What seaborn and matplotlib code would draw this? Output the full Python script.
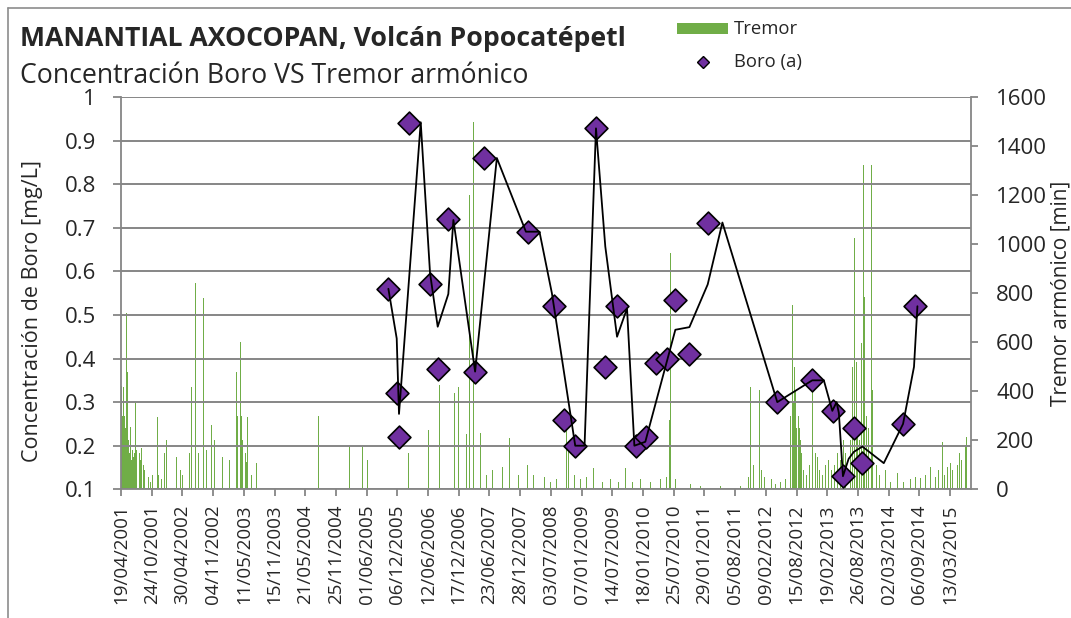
import numpy as np
import pandas as pd
import matplotlib
matplotlib.use("Agg")
import matplotlib.pyplot as plt
import seaborn as sns
from matplotlib.lines import Line2D
from matplotlib.patches import Rectangle

# ---------------- data ----------------
title = "MANANTIAL AXOCOPAN, Volcán Popocatépetl"
subtitle = "Concentración Boro VS Tremor armónico"
left_label = "Concentración de Boro [mg/L]"
right_label = "Tremor armónico [min]"
legend_labels = ["Tremor", "Boro (a)"]

x_tick_labels = ["19/04/2001", "24/10/2001", "30/04/2002", "04/11/2002", "11/05/2003",
                 "15/11/2003", "21/05/2004", "25/11/2004", "01/06/2005", "06/12/2005",
                 "12/06/2006", "17/12/2006", "23/06/2007", "28/12/2007", "03/07/2008",
                 "07/01/2009", "14/07/2009", "18/01/2010", "25/07/2010", "29/01/2011",
                 "05/08/2011", "09/02/2012", "15/08/2012", "19/02/2013", "26/08/2013",
                 "02/03/2014", "06/09/2014", "13/03/2015"]
x_min, x_max = "2001-04-19", "2015-07-19"
left_ticks = [0.1, 0.2, 0.3, 0.4, 0.5, 0.6, 0.7, 0.8, 0.9, 1.0]
left_tick_labels = ["0.1", "0.2", "0.3", "0.4", "0.5", "0.6", "0.7", "0.8", "0.9", "1"]
right_ticks = [0, 200, 400, 600, 800, 1000, 1200, 1400, 1600]

boro_dates = ["2005-10-12", "2005-12-06", "2005-12-15", "2006-02-17", "2006-06-24",
              "2006-08-10", "2006-10-14", "2007-03-27", "2007-05-23", "2008-02-13",
              "2008-07-19", "2008-09-23", "2008-11-29", "2009-04-05", "2009-05-28",
              "2009-08-12", "2009-12-04", "2010-02-05", "2010-04-10", "2010-06-15",
              "2010-08-04", "2010-10-29", "2011-02-18", "2012-04-19", "2012-11-19",
              "2013-03-25", "2013-05-26", "2013-08-04", "2013-09-20", "2014-05-29",
              "2014-08-08"]
boro_values = [0.56, 0.32, 0.22, 0.94, 0.57, 0.376, 0.72, 0.37, 0.86, 0.69,
               0.52, 0.26, 0.20, 0.93, 0.38, 0.52, 0.20, 0.22, 0.39, 0.40,
               0.534, 0.41, 0.71, 0.30, 0.35, 0.28, 0.13, 0.24, 0.16, 0.25,
               0.52]

trend_dates = ["2005-10-12", "2005-12-02", "2005-12-16", "2006-04-28", "2006-06-24",
               "2006-08-10", "2006-10-14", "2006-11-14", "2007-03-27", "2007-08-07",
               "2008-02-01", "2008-04-24", "2008-07-09", "2008-11-29", "2009-01-25",
               "2009-04-05", "2009-06-01", "2009-08-12", "2009-10-12", "2009-11-26",
               "2010-02-01", "2010-08-04", "2010-10-29", "2011-02-18", "2011-05-19",
               "2012-04-19", "2012-11-19", "2013-01-29", "2013-03-22", "2013-04-17",
               "2013-05-01", "2013-05-26", "2013-06-30", "2013-08-01", "2013-09-22",
               "2014-01-31", "2014-05-29", "2014-08-04", "2014-08-25"]
trend_values = [0.56, 0.446, 0.273, 0.942, 0.596, 0.473, 0.548, 0.718, 0.37, 0.86,
                0.691, 0.691, 0.55, 0.20, 0.20, 0.928, 0.657, 0.45, 0.515, 0.20,
                0.209, 0.466, 0.472, 0.57, 0.712, 0.30, 0.35, 0.35, 0.28, 0.30,
                0.275, 0.13, 0.17, 0.186, 0.198, 0.16, 0.25, 0.381, 0.52]

tremor_start = "2001-04-19"
tremor_day = [4, 9, 12, 17, 21, 25, 29, 33, 37, 41, 45, 49, 53, 59, 64, 67, 72, 78, 84, 88,
              92, 96, 104, 110, 115, 121, 127, 135, 139, 145, 158, 170, 182, 194, 207, 215,
              223, 231, 249, 268, 280, 288, 299, 311, 319, 331, 341, 354, 366, 378, 391,
              403, 411, 421, 432, 440, 447, 452, 456, 464, 473, 484, 489, 497, 505, 513,
              522, 533, 544, 554, 562, 574, 587, 599, 611, 623, 636, 654, 666, 679, 691,
              707, 712, 717, 722, 723, 732, 737, 743, 754, 761, 769, 775, 783, 799, 813,
              830, 850, 973, 1089, 1208, 1328, 1353, 1378, 1398, 1414, 1439, 1463, 1480,
              1510, 1537, 1561, 1586, 1610, 1647, 1678, 1715, 1759, 1788, 1819, 1856,
              1882, 1911, 1949, 1978, 2003, 2027, 2041, 2052, 2066, 2076, 2088, 2101,
              2117, 2133, 2144, 2158, 2168, 2180, 2201, 2217, 2236, 2260, 2275, 2291,
              2309, 2334, 2352, 2378, 2401, 2413, 2432, 2450, 2468, 2487, 2505, 2524,
              2548, 2593, 2628, 2665, 2689, 2726, 2740, 2755, 2775, 2812, 2849, 2893,
              2914, 2947, 2996, 3045, 3088, 3131, 3180, 3241, 3302, 3339, 3359, 3364,
              3374, 3394, 3441, 3486, 3547, 3670, 3793, 3842, 3854, 3864, 3872, 3882,
              3895, 3909, 3921, 3940, 3960, 3983, 4007, 4038, 4068, 4089, 4099, 4103,
              4110, 4113, 4118, 4122, 4126, 4130, 4134, 4138, 4144, 4148, 4154, 4160,
              4167, 4179, 4197, 4216, 4232, 4242, 4252, 4263, 4277, 4295, 4314, 4332,
              4350, 4369, 4387, 4405, 4424, 4436, 4445, 4457, 4467, 4477, 4491, 4502,
              4510, 4522, 4534, 4545, 4548, 4553, 4565, 4577, 4594, 4596, 4600, 4610,
              4626, 4644, 4671, 4679, 4712, 4753, 4792, 4835, 4865, 4896, 4927, 4957,
              4988, 5006, 5029, 5043, 5060, 5068, 5080, 5092, 5111, 5123, 5135, 5147,
              5161, 5172, 5178, 5186, 5193]
tremor_values = [420, 300, 600, 418, 300, 480, 250, 718, 300, 480, 200, 180, 150, 255, 120,
                 255, 160, 130, 150, 352, 120, 160, 398, 718, 150, 120, 170, 352, 100, 80,
                 40, 50, 30, 60, 100, 418, 296, 60, 40, 150, 200, 357, 120, 150, 235, 296,
                 130, 100, 80, 60, 90, 150, 480, 150, 418, 200, 663, 1200, 840, 250, 150,
                 718, 840, 527, 779, 200, 160, 357, 311, 262, 120, 201, 100, 150, 90, 130,
                 100, 153, 120, 80, 60, 480, 300, 600, 779, 960, 600, 300, 200, 352, 150,
                 113, 296, 120, 58, 40, 107, 20, 27, 54, 299, 20, 35, 40, 174, 30, 20, 40,
                 174, 120, 30, 40, 174, 30, 50, 30, 60, 147, 40, 50, 30, 242, 60, 425, 80,
                 60, 50, 391, 92, 418, 718, 100, 80, 227, 1200, 242, 1500, 150, 100, 228,
                 80, 60, 235, 80, 214, 60, 90, 70, 208, 90, 174, 60, 120, 90, 100, 70, 60,
                 40, 51, 30, 40, 60, 249, 160, 800, 60, 40, 50, 86, 51, 30, 40, 30, 86, 30,
                 40, 30, 40, 50, 283, 962, 208, 40, 45, 20, 15, 15, 15, 50, 418, 228, 100,
                 300, 595, 405, 80, 50, 106, 40, 20, 30, 40, 133, 300, 420, 751, 806, 350,
                 500, 300, 405, 250, 657, 351, 300, 250, 200, 150, 80, 60, 100, 446, 602,
                 150, 133, 80, 60, 100, 120, 80, 100, 150, 120, 200, 150, 300, 514, 200,
                 500, 1024, 520, 250, 200, 595, 1322, 1207, 785, 300, 250, 697, 1322, 405,
                 228, 100, 60, 194, 79, 30, 65, 30, 40, 50, 46, 60, 92, 50, 80, 194, 60, 90,
                 120, 106, 80, 126, 100, 150, 120, 214, 180, 214, 171, 130]

# ---------------- styling ----------------
sns.set_theme(style="white")
plt.rcParams["font.family"] = ["Open Sans", "DejaVu Sans"]

GREEN = "#70AD47"
PURPLE = "#7030A0"
GREY = "#868686"

W, H = 1071, 618
fig = plt.figure(figsize=(W / 100, H / 100), dpi=100)
fig.patch.set_facecolor("white")

L, R, T, B = 121, 971, 97, 489.3
ax = fig.add_axes([L / W, 1 - B / H, (R - L) / W, (B - T) / H])
ax2 = ax.twinx()
ax.set_zorder(ax2.get_zorder() + 1)
ax.patch.set_visible(False)

# tremor bars (secondary axis)
t_dates = pd.Timestamp(tremor_start) + pd.to_timedelta(tremor_day, unit="D")
ax2.bar(t_dates, tremor_values, width=3.5, color=GREEN, linewidth=0, align="center")

# boro points and connecting line (primary axis)
sns.scatterplot(x=pd.to_datetime(boro_dates), y=boro_values, ax=ax, marker="D", s=135,
                color=PURPLE, edgecolor="black", linewidth=1.2, zorder=3, legend=False)
sns.lineplot(x=pd.to_datetime(trend_dates), y=trend_values, ax=ax, sort=False,
             estimator=None, color="black", linewidth=1.3, zorder=4)

# axes limits / ticks
ax.set_xlim(pd.Timestamp(x_min), pd.Timestamp(x_max))
xt = pd.to_datetime(x_tick_labels, format="%d/%m/%Y")
ax.set_xticks(xt)
ax.set_xticklabels(x_tick_labels, rotation=90, fontsize=13.5)
ax.set_ylim(0.1, 1.0)
ax.set_yticks(left_ticks)
ax.set_yticklabels(left_tick_labels, fontsize=16)
ax2.set_ylim(0, 1600)
ax2.set_yticks(right_ticks)
ax2.set_yticklabels([str(v) for v in right_ticks], fontsize=16)

ax.grid(axis="y", color=GREY, linewidth=1.4)
ax.grid(axis="x", visible=False)
ax2.grid(False)
ax.set_xlabel("")
ax.set_ylabel(left_label, fontsize=15.5)
ax.yaxis.set_label_coords((43 - L) / (R - L), (B - 311) / (B - T))
ax2.set_ylabel(right_label, fontsize=15, rotation=90)
ax2.yaxis.set_label_coords((1050 - L) / (R - L), (B - 293) / (B - T))

for a in (ax, ax2):
    for s in a.spines.values():
        s.set_color(GREY)
        s.set_linewidth(1.3)
ax.spines["top"].set_visible(False)
ax.spines["right"].set_visible(False)
ax2.spines["top"].set_visible(False)
ax2.spines["left"].set_visible(False)
ax2.spines["bottom"].set_visible(False)

ax.tick_params(axis="y", which="both", left=True, length=6, width=1.3, color=GREY,
               pad=12, direction="out")
ax.tick_params(axis="x", which="both", bottom=True, length=5, width=1.3, color=GREY,
               pad=6, direction="out")
ax2.tick_params(axis="y", which="both", right=True, length=5, width=1.3, color=GREY,
                pad=13, direction="out")

# titles
fig.text(20 / W, 1 - 46 / H, title, fontsize=19.2, fontweight="bold", ha="left",
         va="baseline")
fig.text(20 / W, 1 - 83 / H, subtitle, fontsize=19.2, ha="left", va="baseline")

# legend (manual)
fig.add_artist(Rectangle((677 / W, 1 - 34 / H), 51 / W, 11 / H, transform=fig.transFigure,
                         facecolor=GREEN, edgecolor="none"))
fig.text(734 / W, 1 - 29 / H, legend_labels[0], fontsize=13.3, ha="left", va="center")
fig.add_artist(Line2D([703 / W], [1 - 62 / H], transform=fig.transFigure, marker="D",
                      markersize=6, markerfacecolor=PURPLE, markeredgecolor="black",
                      markeredgewidth=1.0, linestyle="none"))
fig.text(734 / W, 1 - 62 / H, legend_labels[1], fontsize=13.3, ha="left", va="center")

# outer chart frame (left and top visible)
fig.add_artist(Line2D([8 / W, 8 / W], [0, 1 - 8 / H], transform=fig.transFigure,
                      color="#8C8C8C", linewidth=1.2))
fig.add_artist(Line2D([8 / W, 1], [1 - 8 / H, 1 - 8 / H], transform=fig.transFigure,
                      color="#8C8C8C", linewidth=1.2))

fig.savefig("out.png", dpi=100, facecolor="white")
